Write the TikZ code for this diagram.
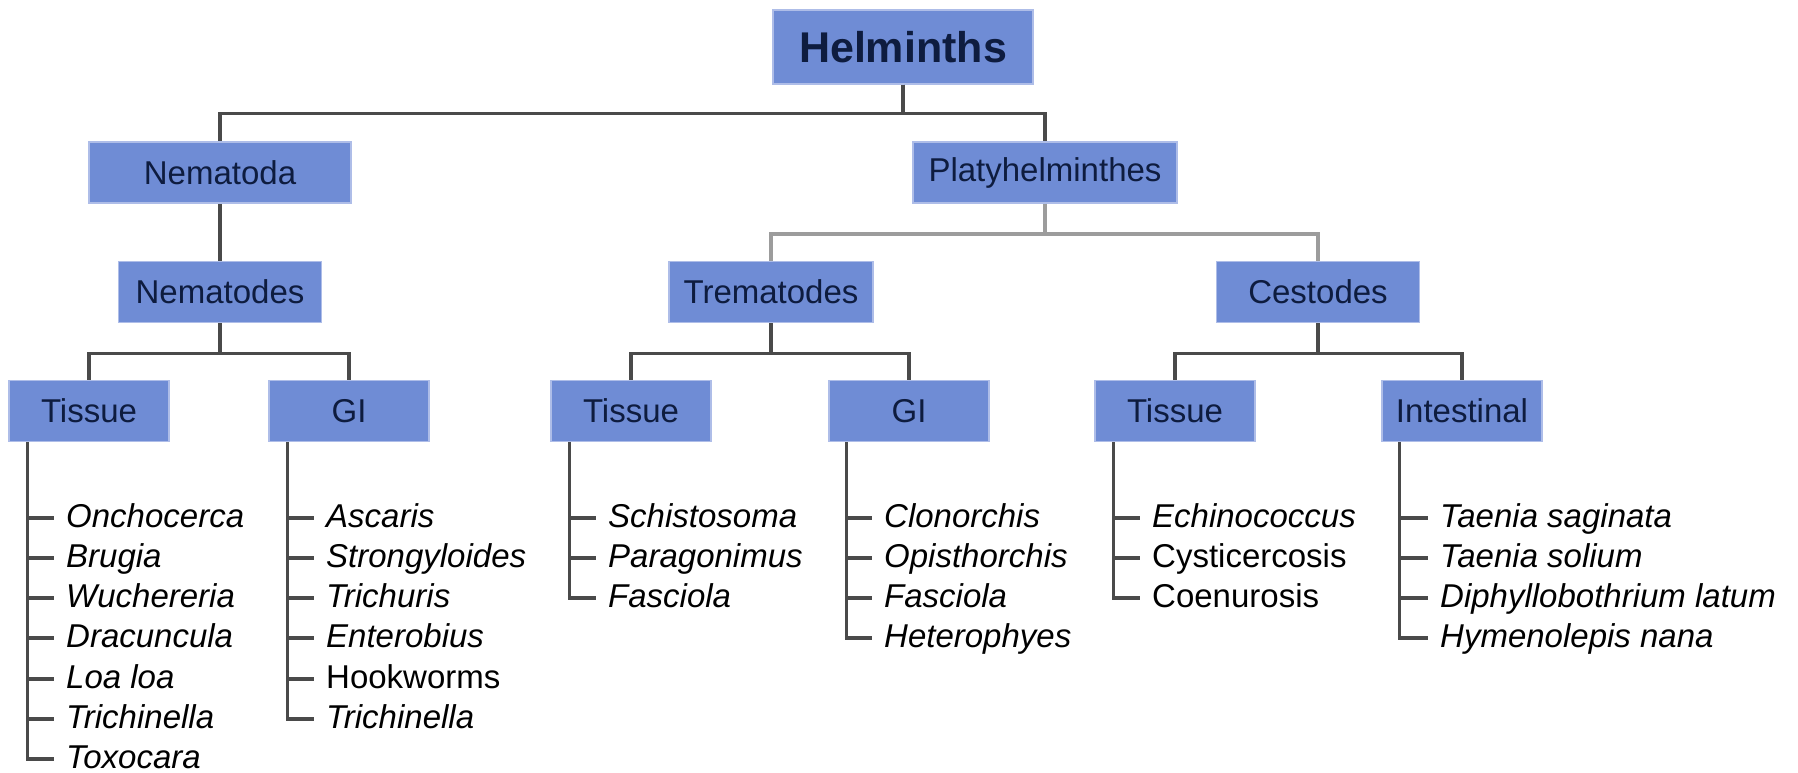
\documentclass[tikz,border=0pt]{standalone}
\usepackage{fontspec}
\setmainfont{Liberation Sans}
\usepackage{tikz}
\usetikzlibrary{positioning}
\definecolor{boxblue}{HTML}{6F8CD5}
\definecolor{boxedge}{HTML}{AEBDE8}
\definecolor{boxtext}{HTML}{0E1C3F}
\definecolor{linkgray}{HTML}{4A4A4A}
\definecolor{palegray}{HTML}{9C9C9C}

\begin{document}
\begin{tikzpicture}[x=1pt, y=-1pt,
  taxnode/.style={rectangle, draw=boxedge, line width=1.5pt, fill=boxblue,
               text=boxtext, minimum height=61pt, minimum width=160pt,
               inner sep=0pt, font=\fontsize{33}{40}\selectfont},
  leaf/.style={anchor=west, inner xsep=12pt, inner ysep=3pt,
               text height=26pt, text depth=8pt,
               font=\fontsize{33}{40}\selectfont\itshape},
  link/.style={line width=3.5pt, color=linkgray},
  palelink/.style={line width=4.5pt, color=palegray},
]
\useasboundingbox (0,0) rectangle (1798,773);

\node[taxnode, minimum width=260pt, minimum height=74pt,
      font=\fontsize{43}{50}\selectfont\bfseries] (helm) at (903,47) {Helminths};
\node[taxnode, minimum width=262pt] (nema)  at (220,172.5)  {Nematoda};
\node[taxnode, minimum width=264pt] (platy) at (1045,172.5) {Platyhelminthes};

\node[taxnode, minimum width=203pt] (nemas) at (220,292)  {Nematodes};
\node[taxnode, minimum width=204pt] (trem)  at (771,292)  {Trematodes};
\node[taxnode, minimum width=203pt] (cest)  at (1318,292) {Cestodes};

\node[taxnode] (ntis) at (89,411)   {Tissue};
\node[taxnode] (ngi)  at (349,411)  {GI};
\node[taxnode] (ttis) at (631,411)  {Tissue};
\node[taxnode] (tgi)  at (909,411)  {GI};
\node[taxnode] (ctis) at (1175,411) {Tissue};
\node[taxnode] (cint) at (1462,411) {Intestinal};

\draw[link] (helm.south) -- ++(0,29) -| (nema.north);
\draw[link] (helm.south) -- ++(0,29) -| (platy.north);
\draw[link] (nema) -- (nemas);
\draw[palelink] (platy.south) -- ++(0,30) -| (trem.north);
\draw[palelink] (platy.south) -- ++(0,30) -| (cest.north);
\draw[link] (nemas.south) -- ++(0,30) -| (ntis.north);
\draw[link] (nemas.south) -- ++(0,30) -| (ngi.north);
\draw[link] (trem.south) -- ++(0,30) -| (ttis.north);
\draw[link] (trem.south) -- ++(0,30) -| (tgi.north);
\draw[link] (cest.south) -- ++(0,30) -| (ctis.north);
\draw[link] (cest.south) -- ++(0,30) -| (cint.north);

% Nematodes, tissue
\node[leaf] (onch) at (54,518) {Onchocerca};
\node[leaf] (brug) at (54,558) {Brugia};
\node[leaf] (wuch) at (54,598) {Wuchereria};
\node[leaf] (drac) at (54,638) {Dracuncula};
\node[leaf] (loa)  at (54,679) {Loa loa};
\node[leaf] (tri1) at (54,719) {Trichinella};
\node[leaf] (toxo) at (54,759) {Toxocara};
% Nematodes, GI
\node[leaf] (asca) at (314,518) {Ascaris};
\node[leaf] (stro) at (314,558) {Strongyloides};
\node[leaf] (tcrs) at (314,598) {Trichuris};
\node[leaf] (ente) at (314,638) {Enterobius};
\node[leaf] (hook) at (314,679) {\upshape Hookworms};
\node[leaf] (tri2) at (314,719) {Trichinella};
% Trematodes
\node[leaf] (schi) at (596,518) {Schistosoma};
\node[leaf] (para) at (596,558) {Paragonimus};
\node[leaf] (fas1) at (596,598) {Fasciola};
\node[leaf] (clon) at (872,518) {Clonorchis};
\node[leaf] (opis) at (872,558) {Opisthorchis};
\node[leaf] (fas2) at (872,598) {Fasciola};
\node[leaf] (hete) at (872,638) {Heterophyes};
% Cestodes
\node[leaf] (echi) at (1140,518) {Echinococcus};
\node[leaf] (cyst) at (1140,558) {\upshape Cysticercosis};
\node[leaf] (coen) at (1140,598) {\upshape Coenurosis};
\node[leaf] (tsag) at (1428,518) {Taenia saginata};
\node[leaf] (tsol) at (1428,558) {Taenia solium};
\node[leaf] (diph) at (1428,598) {Diphyllobothrium latum};
\node[leaf] (hyme) at (1428,638) {Hymenolepis nana};

\foreach \l in {onch,brug,wuch,drac,loa,tri1,toxo}
  \draw[link] ([xshift=19pt]ntis.south west) |- (\l.west);
\foreach \l in {asca,stro,tcrs,ente,hook,tri2}
  \draw[link] ([xshift=19pt]ngi.south west) |- (\l.west);
\foreach \l in {schi,para,fas1}
  \draw[link] ([xshift=19pt]ttis.south west) |- (\l.west);
\foreach \l in {clon,opis,fas2,hete}
  \draw[link] ([xshift=18pt]tgi.south west) |- (\l.west);
\foreach \l in {echi,cyst,coen}
  \draw[link] ([xshift=19pt]ctis.south west) |- (\l.west);
\foreach \l in {tsag,tsol,diph,hyme}
  \draw[link] ([xshift=18pt]cint.south west) |- (\l.west);
\end{tikzpicture}
\end{document}
